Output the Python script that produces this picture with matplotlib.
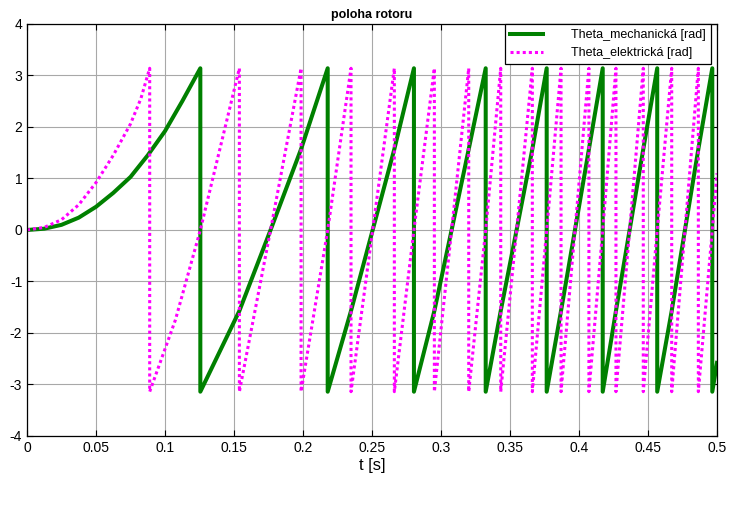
import matplotlib.pyplot as plt

plt.rcParams['font.family'] = ['Liberation Sans', 'DejaVu Sans']
plt.rcParams['axes.unicode_minus'] = False

# mechanical angle [rad] (wraps at +-pi)
mech_t = [0, 0.0125, 0.025, 0.0375, 0.05, 0.0625, 0.075, 0.0875, 0.1, 0.1125, 0.1256,
          0.1256, 0.1539, 0.1765, 0.1986, 0.2179,
          0.2179, 0.2348, 0.2505, 0.2662, 0.2804,
          0.2804, 0.2952, 0.3077, 0.3201, 0.3324,
          0.3324, 0.3433, 0.3548, 0.3662, 0.3766,
          0.3766, 0.3870, 0.3971, 0.4072, 0.4172,
          0.4172, 0.4268, 0.4367, 0.4466, 0.4567,
          0.4567, 0.4672, 0.4768, 0.4865, 0.4966,
          0.4966, 0.5]
mech_v = [0, 0.025, 0.1, 0.24, 0.45, 0.72, 1.03, 1.45, 1.92, 2.5, 3.14,
          -3.14, -1.57, 0, 1.57, 3.14,
          -3.14, -1.57, 0, 1.57, 3.14,
          -3.14, -1.57, 0, 1.57, 3.14,
          -3.14, -1.57, 0, 1.57, 3.14,
          -3.14, -1.57, 0, 1.57, 3.14,
          -3.14, -1.57, 0, 1.57, 3.14,
          -3.14, -1.57, 0, 1.57, 3.14,
          -3.14, -2.58]

# electrical angle [rad]
elec_t = [0, 0.0125, 0.025, 0.0375, 0.05, 0.0625, 0.075, 0.0825, 0.0889,
          0.0889, 0.1075, 0.1256, 0.1539,
          0.1539, 0.1765, 0.1986,
          0.1986, 0.2179, 0.2348,
          0.2348, 0.2505, 0.2662,
          0.2662, 0.2804, 0.2952,
          0.2952, 0.3077, 0.3201,
          0.3201, 0.3324, 0.3433,
          0.3433, 0.3548, 0.3662,
          0.3662, 0.3766, 0.3870,
          0.3870, 0.3971, 0.4072,
          0.4072, 0.4172, 0.4268,
          0.4268, 0.4367, 0.4466,
          0.4466, 0.4567, 0.4672,
          0.4672, 0.4768, 0.4865,
          0.4865, 0.4966, 0.5]
elec_v = [0, 0.05, 0.2, 0.49, 0.92, 1.45, 2.06, 2.55, 3.14,
          -3.14, -1.75, 0, 3.14,
          -3.14, 0, 3.14,
          -3.14, 0, 3.14,
          -3.14, 0, 3.14,
          -3.14, 0, 3.14,
          -3.14, 0, 3.14,
          -3.14, 0, 3.14,
          -3.14, 0, 3.14,
          -3.14, 0, 3.14,
          -3.14, 0, 3.14,
          -3.14, 0, 3.14,
          -3.14, 0, 3.14,
          -3.14, 0, 3.14,
          -3.14, 0, 3.14,
          -3.14, 0, 1.1]

xticks = [0, 0.05, 0.1, 0.15, 0.2, 0.25, 0.3, 0.35, 0.4, 0.45, 0.5]
xlabels = ['0', '0.05', '0.1', '0.15', '0.2', '0.25', '0.3', '0.35', '0.4', '0.45', '0.5']
yticks = [-4, -3, -2, -1, 0, 1, 2, 3, 4]

fig = plt.figure(figsize=(7.34, 5.27), dpi=100)
ax = fig.add_axes([0.0368, 0.1727, 0.94, 0.7818])

ax.plot(mech_t, mech_v, color='#008000', lw=2.9, label='Theta_mechanická [rad]')
ax.plot(elec_t, elec_v, color='#ff00ff', lw=2.2, linestyle=(0, (1, 1)),
        label='Theta_elektrická [rad]')

ax.set_xlim(0, 0.5)
ax.set_ylim(-4, 4)
ax.set_xticks(xticks)
ax.set_xticklabels(xlabels)
ax.set_yticks(yticks)
ax.tick_params(direction='in', top=True, right=True, labelsize=10, length=4)
ax.grid(True, color='#a8a8a8', lw=0.8)
for s in ax.spines.values():
    s.set_linewidth(0.9)

ax.set_title('poloha rotoru', fontsize=9, fontweight='bold', pad=4)
ax.set_xlabel('t [s]', fontsize=12, labelpad=2)

leg = ax.legend(loc='upper right', bbox_to_anchor=(711 / 734, 1 - 24 / 527),
                bbox_transform=fig.transFigure, fontsize=9, fancybox=False,
                framealpha=1, edgecolor='black', handlelength=2.6,
                handletextpad=2.3, borderaxespad=0, borderpad=0.4,
                labelspacing=0.5)
leg.get_frame().set_linewidth(0.9)

fig.savefig('out.png', dpi=100)
